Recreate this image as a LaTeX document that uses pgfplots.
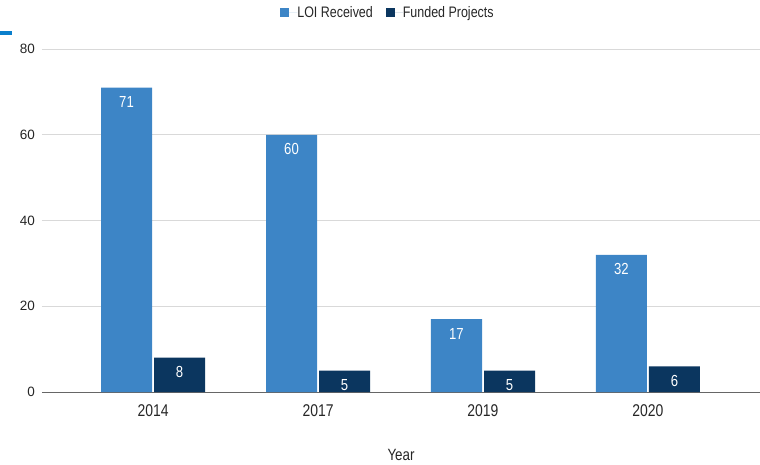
\documentclass[border=0pt]{standalone}
\usepackage{fontspec}
\setmainfont{Liberation Sans}
\newfontfamily\nfont[FakeStretch=0.82]{Liberation Sans}
\usepackage{pgfplots}
\pgfplotsset{compat=1.18}
\definecolor{loi}{HTML}{3D85C6}
\definecolor{fund}{HTML}{0B365F}
\definecolor{gridc}{HTML}{D9D9D9}
\definecolor{zeroc}{HTML}{666666}
\definecolor{dashc}{HTML}{0A7FCC}
\begin{document}
\begin{tikzpicture}
\path[use as bounding box] (-42pt,-72pt) rectangle (718pt,392pt);
\fill[dashc] (-42pt,357pt) rectangle (-30pt,361pt);
\begin{axis}[
  at={(0pt,0pt)}, anchor=south west,
  scale only axis, width=718pt, height=343pt,
  ybar=2pt, bar width=51pt,
  xmin=-0.673, xmax=3.679, ymin=0, ymax=80,
  xtick=data, xticklabels={2014,2017,2019,2020},
  ytick={20,40,60,80},
  extra y ticks={0},
  extra y tick style={grid style={draw=zeroc, line width=0.8pt}},
  ymajorgrids, grid style={draw=gridc, line width=0.6pt},
  axis line style={draw=none}, tick style={draw=none},
  major tick length=0pt,
  /pgf/number format/assume math mode=true,
  yticklabel style={inner sep=0pt, xshift=-7pt, font=\fontsize{13.5}{15}\selectfont, text=black!85},
  xticklabel style={inner sep=0pt, yshift=-12pt, font=\nfont\fontsize{17}{19}\selectfont, text=black!85},
  xlabel={Year},
  xlabel style={at={(axis description cs:0.5,0)}, anchor=center, yshift=-63pt, font=\nfont\fontsize{16.3}{18}\selectfont, text=black!85},
  legend style={at={(axis description cs:0.4805,1.105)}, anchor=center, draw=none, fill=none,
    legend columns=2, font=\nfont\fontsize{15.2}{17}\selectfont, text=black!85,
    nodes={inner sep=0pt, anchor=west},
    /tikz/every even column/.append style={column sep=13pt}},
  legend image code/.code={\path (0pt,0pt) -- (17pt,0pt); \fill[#1] (0pt,-4.5pt) rectangle (9pt,4.5pt);},
  nodes near coords,
  every node near coord/.append style={anchor=center, yshift=-14.5pt, text=white, font=\nfont\fontsize{16}{18}\selectfont},
  clip=false,
]
\addplot[fill=loi, draw=none] coordinates {(0,71) (1,60) (2,17) (3,32)};
\addplot[fill=fund, draw=none] coordinates {(0,8) (1,5) (2,5) (3,6)};
\legend{LOI Received, Funded Projects}
\end{axis}
\end{tikzpicture}
\end{document}
